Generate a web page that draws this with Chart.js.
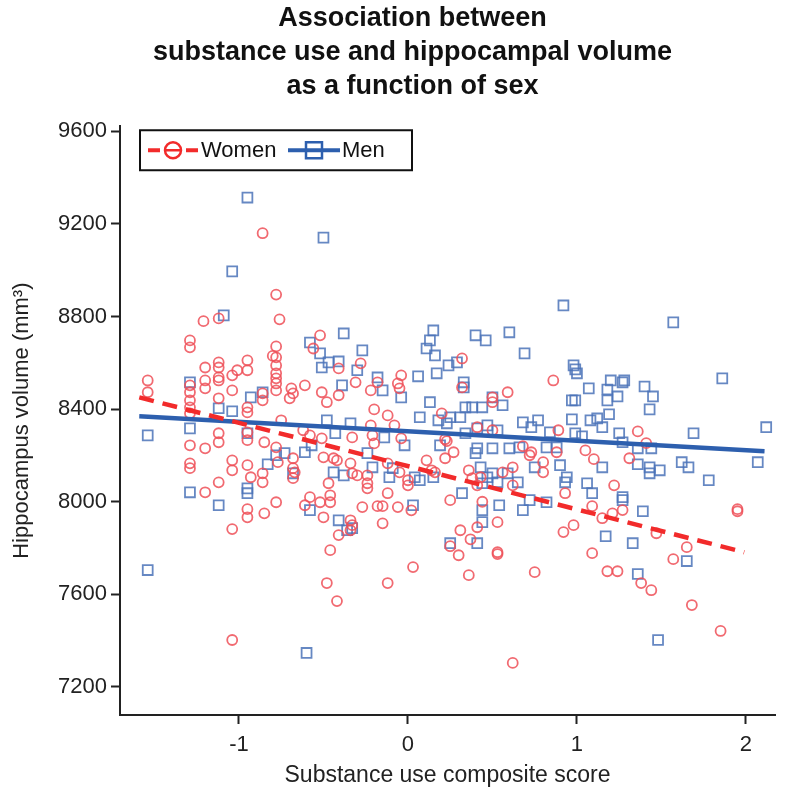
<!DOCTYPE html>
<html>
<head>
<meta charset="utf-8">
<script src="https://cdn.jsdelivr.net/npm/chart.js@4.4.0/dist/chart.umd.min.js"></script>
<style>
  html, body { margin: 0; padding: 0; background: #fff; }
  #wrap { width: 790px; height: 795px; }
</style>
</head>
<body>
<div id="wrap"><canvas id="chart" width="790" height="795"></canvas></div>
<script>
// substance use composite score (x) vs hippocampus volume in mm3 (y)
const womenPoints = [
  [-0.86, 9160], [-0.78, 8895], [-1.21, 8780], [-1.12, 8792], [-0.76, 8788], [-1.29, 8697], [-1.29, 8667], [-0.52, 8719],
  [-0.56, 8662], [-0.78, 8671], [-0.80, 8630], [-0.78, 8624], [-0.41, 8576], [-1.12, 8602], [-1.12, 8580], [-1.20, 8580],
  [-0.95, 8611], [-0.95, 8568], [-1.01, 8568], [-0.78, 8589], [-0.78, 8555], [-1.12, 8537], [-1.12, 8524], [-1.04, 8546],
  [-1.54, 8524], [-1.54, 8473], [-1.29, 8503], [-1.29, 8473], [-1.20, 8524], [-1.20, 8490], [-1.04, 8481], [-1.12, 8447],
  [-0.78, 8533], [-0.78, 8511], [-0.78, 8481], [-0.69, 8490], [-0.68, 8468], [-0.70, 8447], [-0.61, 8503], [-0.51, 8473],
  [-0.48, 8430], [-0.41, 8460], [-0.86, 8468], [-0.86, 8438], [-0.95, 8408], [-0.95, 8386], [-1.29, 8438], [-1.29, 8408],
  [-1.29, 8382], [-1.29, 8244], [-1.20, 8231], [-1.12, 8296], [-1.12, 8257], [-0.95, 8300], [-0.95, 8266], [-0.85, 8257],
  [-0.75, 8352], [-0.78, 8235], [-0.77, 8171], [-1.29, 8166], [-1.29, 8145], [-1.04, 8179], [-1.04, 8136], [-0.95, 8158],
  [-1.12, 8084], [-0.93, 8106], [-0.86, 8123], [-0.86, 8084], [-1.20, 8041], [-0.68, 8188], [-0.68, 8145], [-0.67, 8127],
  [-0.68, 8102], [-0.62, 8309], [-0.58, 8287], [-0.51, 8274], [-0.50, 8192], [-0.44, 8188], [-0.42, 8179], [-0.47, 8080],
  [-0.58, 8020], [-0.46, 8028], [-0.28, 8598], [-0.31, 8516], [0.32, 8619], [-0.18, 8516], [-0.22, 8481], [-0.04, 8546],
  [-0.06, 8511], [-0.05, 8490], [0.86, 8524], [0.32, 8494], [0.59, 8473], [0.50, 8451], [0.50, 8430], [-0.20, 8399],
  [-0.12, 8373], [0.20, 8382], [-0.08, 8330], [-0.22, 8330], [0.41, 8322], [0.50, 8309], [0.89, 8309], [-0.33, 8278],
  [-0.21, 8287], [-0.20, 8252], [-0.04, 8274], [0.22, 8270], [0.23, 8262], [0.27, 8214], [0.11, 8179], [0.22, 8188],
  [0.68, 8240], [0.73, 8214], [0.72, 8201], [0.80, 8171], [0.80, 8127], [0.88, 8214], [0.62, 8149], [0.56, 8127],
  [0.62, 8071], [-0.34, 8166], [-0.33, 8123], [-0.30, 8114], [-0.24, 8114], [-0.24, 8080], [-0.24, 8058], [-0.12, 8166],
  [-0.05, 8127], [0.00, 8093], [0.00, 8071], [0.14, 8136], [0.16, 8127], [0.36, 8136], [0.38, 8102], [0.43, 8106],
  [0.41, 8071], [-0.12, 8037], [0.93, 8037], [-0.27, 7977], [-0.18, 7981], [-0.15, 7981], [-0.06, 7977], [0.02, 7963],
  [-0.34, 7920], [-0.33, 7899], [-0.34, 7877], [-0.15, 7907], [0.25, 8007], [0.44, 8000], [0.31, 7877], [0.37, 7838],
  [0.41, 7890], [0.53, 7912], [0.25, 7808], [0.30, 7769], [0.53, 7782], [0.53, 7774], [0.03, 7718], [-0.12, 7649],
  [0.36, 7683], [0.75, 7696], [0.92, 7869], [0.62, 7304], [-0.95, 7968], [-0.95, 7933], [-0.85, 7950], [-0.78, 7998],
  [-1.04, 7882], [-1.04, 7403], [-0.61, 7985], [-0.52, 7998], [-0.46, 7998], [-0.50, 7933], [-0.41, 7856], [-0.46, 7791],
  [-0.48, 7649], [-0.42, 7571], [1.09, 7981], [1.15, 7929], [1.21, 7950], [1.27, 7964], [0.98, 7899], [1.09, 7778],
  [1.18, 7700], [1.24, 7700], [1.38, 7649], [1.44, 7618], [1.47, 7864], [1.65, 7804], [1.57, 7752], [1.68, 7554],
  [1.85, 7442], [1.95, 7968], [1.95, 7959], [1.36, 8304], [1.41, 8253], [1.05, 8222], [1.10, 8184], [1.31, 8188],
  [1.22, 8071]
];

const menPoints = [
  [-0.95, 9314], [-0.50, 9141], [-1.04, 8995], [-1.09, 8805], [-1.54, 7705], [-0.60, 7347], [1.48, 7403], [0.92, 8848],
  [1.57, 8775], [-0.38, 8727], [-0.58, 8688], [-0.52, 8641], [-0.47, 8602], [-0.41, 8606], [-0.51, 8580], [-1.29, 8516],
  [-0.39, 8503], [-0.86, 8473], [-0.93, 8451], [-1.12, 8404], [-1.04, 8391], [-1.29, 8317], [-1.54, 8287], [-0.95, 8296],
  [-0.78, 8201], [-0.73, 8210], [-0.83, 8162], [-1.29, 8041], [-0.95, 8058], [-0.95, 8037], [-0.68, 8123], [-0.61, 8214],
  [-0.57, 8244], [-0.48, 8352], [-0.43, 8296], [-0.44, 8127], [-0.38, 8114], [0.15, 8740], [0.13, 8697], [0.11, 8662],
  [0.16, 8632], [0.40, 8719], [0.46, 8697], [0.60, 8732], [0.69, 8641], [-0.27, 8654], [-0.30, 8568], [0.29, 8602],
  [0.24, 8589], [0.17, 8555], [-0.18, 8537], [-0.15, 8481], [0.06, 8542], [-0.04, 8451], [0.33, 8516], [0.33, 8494],
  [0.50, 8451], [0.56, 8417], [0.34, 8408], [0.38, 8408], [0.44, 8408], [0.13, 8430], [0.07, 8365], [0.18, 8352],
  [0.23, 8339], [0.25, 8365], [0.31, 8365], [-0.34, 8339], [0.41, 8317], [0.47, 8330], [0.68, 8343], [0.73, 8322],
  [0.77, 8352], [0.53, 8309], [0.84, 8300], [0.34, 8296], [-0.14, 8278], [-0.02, 8244], [0.19, 8244], [0.41, 8231],
  [0.40, 8210], [0.50, 8231], [0.60, 8231], [0.66, 8235], [0.82, 8235], [0.88, 8235], [0.90, 8158], [0.75, 8149],
  [0.43, 8149], [0.47, 8106], [0.50, 8123], [0.59, 8123], [0.65, 8084], [0.93, 8084], [0.94, 8106], [-0.24, 8210],
  [-0.21, 8149], [-0.11, 8106], [-0.09, 8145], [0.04, 8106], [0.07, 8093], [0.15, 8106], [0.44, 8080], [0.53, 8084],
  [0.32, 8037], [0.03, 7985], [-0.33, 7886], [0.44, 7964], [0.44, 7912], [0.54, 7985], [0.68, 7964], [0.72, 8007],
  [0.82, 7998], [0.25, 7821], [0.41, 7821], [-1.12, 7985], [-0.58, 7964], [-0.41, 7920], [-0.36, 7877], [1.27, 8007],
  [1.39, 7959], [1.17, 7851], [1.33, 7821], [1.36, 7688], [1.65, 7744], [0.98, 8589], [0.99, 8572], [1.00, 8555],
  [1.86, 8533], [1.20, 8524], [1.27, 8516], [1.28, 8524], [1.18, 8485], [1.24, 8455], [1.18, 8438], [1.40, 8498],
  [1.45, 8455], [1.43, 8399], [1.07, 8490], [0.97, 8438], [0.99, 8438], [0.97, 8356], [1.08, 8352], [1.12, 8360],
  [1.15, 8322], [1.19, 8378], [0.99, 8296], [1.03, 8283], [1.25, 8296], [1.27, 8257], [1.36, 8231], [1.44, 8231],
  [1.69, 8296], [2.12, 8322], [1.15, 8149], [1.36, 8162], [1.43, 8149], [1.43, 8123], [1.49, 8136], [1.62, 8171],
  [1.66, 8149], [1.78, 8093], [2.07, 8171], [1.06, 8080], [1.09, 8037], [1.27, 8020]
];

// fitted regression lines (end points)
const womenFit = [[-1.59, 8451], [1.99, 7782]];
const menFit = [[-1.59, 8369], [2.11, 8218]];

const xTicks = [-1, 0, 1, 2];
const yTicks = [7200, 7600, 8000, 8400, 8800, 9200, 9600];

const titleLines = ['Association between', 'substance use and hippocampal volume', 'as a function of sex'];

const RED = '#f22b2b';
const BLUE = '#2d5fae';
const RED_PT = 'rgba(238, 80, 88, 0.85)';
const BLUE_PT = 'rgba(75, 115, 185, 0.85)';

Chart.defaults.font.family = '"Liberation Sans", Arial, sans-serif';
Chart.defaults.color = '#222';

function toXY(list) {
    return list.map(p => ({ x: p[0], y: p[1] }));
}

// legend drawn inside the plot, top-left, like the original
const insideLegend = {
    id: 'insideLegend',
    afterDraw(chart) {
        const ctx = chart.ctx;
        const area = chart.chartArea;
        const x0 = area.left + 20;
        const y0 = area.top + 4;
        const w = 272, h = 40;
        const cy = y0 + h / 2;
        ctx.save();
        ctx.fillStyle = '#fff';
        ctx.fillRect(x0, y0, w, h);
        ctx.lineWidth = 2;
        ctx.strokeStyle = '#111';
        ctx.strokeRect(x0, y0, w, h);

        // women: dashed red with circle
        ctx.strokeStyle = RED;
        ctx.lineWidth = 4;
        ctx.beginPath();
        ctx.moveTo(x0 + 8, cy); ctx.lineTo(x0 + 20, cy);
        ctx.moveTo(x0 + 46, cy); ctx.lineTo(x0 + 58, cy);
        ctx.stroke();
        ctx.lineWidth = 2.5;
        ctx.beginPath();
        ctx.arc(x0 + 33, cy, 8, 0, Math.PI * 2);
        ctx.stroke();
        ctx.beginPath();
        ctx.moveTo(x0 + 25, cy); ctx.lineTo(x0 + 41, cy);
        ctx.stroke();

        // men: solid blue with square
        ctx.strokeStyle = BLUE;
        ctx.lineWidth = 4;
        ctx.beginPath();
        ctx.moveTo(x0 + 148, cy); ctx.lineTo(x0 + 200, cy);
        ctx.stroke();
        ctx.lineWidth = 2.5;
        ctx.strokeRect(x0 + 166, cy - 8, 16, 16);

        ctx.fillStyle = '#111';
        ctx.font = '22px "Liberation Sans", Arial, sans-serif';
        ctx.textBaseline = 'middle';
        ctx.fillText('Women', x0 + 61, cy + 1);
        ctx.fillText('Men', x0 + 202, cy + 1);
        ctx.restore();
    }
};

const ctx = document.getElementById('chart').getContext('2d');

new Chart(ctx, {
    type: 'scatter',
    data: {
        datasets: [
            {
                label: 'Women fit',
                type: 'line',
                data: toXY(womenFit),
                borderColor: RED,
                borderWidth: 4.5,
                borderDash: [15, 9],
                pointRadius: 0,
                fill: false,
                order: 0
            },
            {
                label: 'Men fit',
                type: 'line',
                data: toXY(menFit),
                borderColor: BLUE,
                borderWidth: 4.5,
                pointRadius: 0,
                fill: false,
                order: 0
            },
            {
                label: 'Women',
                data: toXY(womenPoints),
                pointStyle: 'circle',
                pointRadius: 5,
                pointBorderWidth: 1.8,
                pointBorderColor: RED_PT,
                pointBackgroundColor: 'rgba(0,0,0,0)',
                order: 1
            },
            {
                label: 'Men',
                data: toXY(menPoints),
                pointStyle: 'rect',
                pointRadius: 7,
                pointBorderWidth: 1.8,
                pointBorderColor: BLUE_PT,
                pointBackgroundColor: 'rgba(0,0,0,0)',
                order: 1
            }
        ]
    },
    options: {
        responsive: false,
        animation: false,
        devicePixelRatio: 1,
        layout: {
            padding: { left: 50, right: 15, top: 0, bottom: 0 }
        },
        plugins: {
            legend: { display: false },
            tooltip: { enabled: false },
            title: {
                display: true,
                text: titleLines,
                color: '#111',
                font: { size: 27, weight: 'bold', lineHeight: 1.25 },
                padding: { top: 2, bottom: 23 }
            }
        },
        scales: {
            x: {
                type: 'linear',
                min: -1.704,
                max: 2.172,
                afterBuildTicks: axis => { axis.ticks = xTicks.map(v => ({ value: v })); },
                afterFit: scale => { scale.height = 80; },
                grid: { drawOnChartArea: false, drawTicks: true, tickLength: 9, tickColor: '#222', tickWidth: 2 },
                border: { display: true, color: '#222', width: 2 },
                ticks: { font: { size: 22 }, color: '#222', padding: 8, callback: v => String(v) },
                title: {
                    display: true,
                    text: 'Substance use composite score',
                    font: { size: 23 },
                    color: '#222',
                    padding: { top: 0, bottom: 6 }
                }
            },
            y: {
                type: 'linear',
                min: 7079,
                max: 9622,
                afterBuildTicks: axis => { axis.ticks = yTicks.map(v => ({ value: v })); },
                afterFit: scale => { scale.width = 70; },
                grid: { drawOnChartArea: false, drawTicks: true, tickLength: 9, tickColor: '#222', tickWidth: 2 },
                border: { display: true, color: '#222', width: 2 },
                ticks: { font: { size: 22 }, color: '#222', padding: 4, callback: v => String(v) },
                title: {
                    display: true,
                    text: 'Hippocampus volume (mm³)',
                    font: { size: 22 },
                    color: '#222',
                    padding: { top: -41, bottom: 0 }
                }
            }
        }
    },
    plugins: [insideLegend]
});
</script>
</body>
</html>
